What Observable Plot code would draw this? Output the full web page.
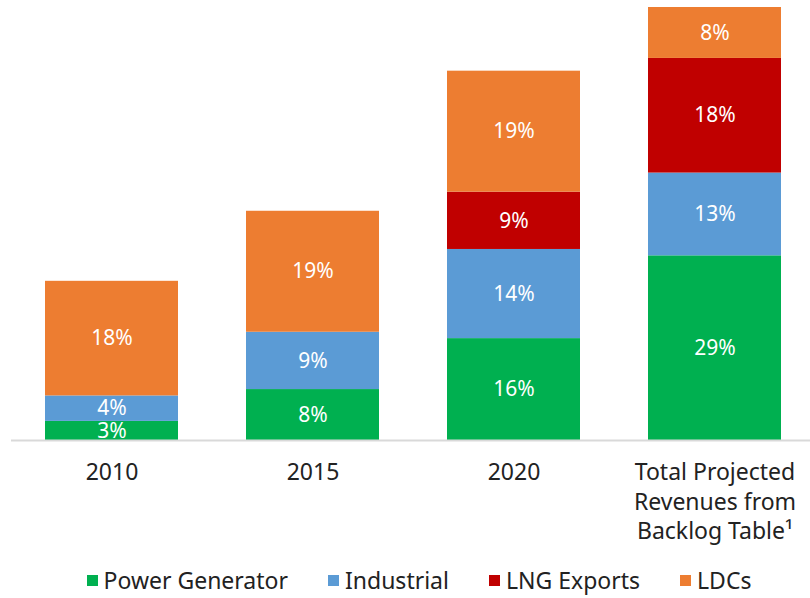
<!DOCTYPE html>
<html>
<head>
<meta charset="utf-8">
<script src="https://cdn.jsdelivr.net/npm/d3@7"></script>
<script src="https://cdn.jsdelivr.net/npm/@observablehq/plot@0.6"></script>
<style>
  body { margin: 0; background: #fff; font-family: "Noto Sans", sans-serif; }
  #chart { width: 810px; }
  .legend { display: flex; justify-content: center; gap: 40px; margin-top: 14px; padding-left: 28px; font-size: 23px; color: #222; }
  .legend span.item { display: inline-flex; align-items: center; }
  .legend span.sw { width: 11px; height: 11px; display: inline-block; margin-right: 6px; }
</style>
</head>
<body>
<div id="chart"></div>
<script>
const categories = ["2010", "2015", "2020", "Total Projected\nRevenues from\nBacklog Table¹"];
const seriesNames = ["Power Generator", "Industrial", "LNG Exports", "LDCs"];
const seriesColors = ["#00B050", "#5B9BD5", "#C00000", "#ED7D31"];
const powerGenerator = [3, 8, 16, 29];
const industrial = [4, 9, 14, 13];
const lngExports = [0, 0, 9, 18];
const ldcs = [18, 19, 19, 8];

const seriesValues = [powerGenerator, industrial, lngExports, ldcs];
const data = [];
seriesNames.forEach((s, i) => {
  categories.forEach((c, j) => {
    if (seriesValues[i][j] > 0) data.push({category: c, series: s, value: seriesValues[i][j]});
  });
});

const chart = Plot.plot({
  width: 810,
  height: 550,
  marginTop: 7,
  marginBottom: 110,
  marginLeft: 11,
  marginRight: 0,
  style: { fontFamily: "Noto Sans, sans-serif", background: "#fff" },
  x: { domain: categories, range: [11.5, 815.5], paddingInner: 0.338, paddingOuter: 0.169, label: null },
  y: { domain: [0, 68], axis: null },
  color: { domain: seriesNames, range: seriesColors },
  marks: [
    Plot.barY(data, Plot.stackY({x: "category", y: "value", fill: "series", order: seriesNames})),
    Plot.text(data, Plot.stackY({x: "category", y: "value", z: "series", order: seriesNames,
      text: d => d.value + "%", fill: "white", fontSize: 21})),
    Plot.ruleY([0], {stroke: "#d9d9d9", strokeWidth: 2}),
    Plot.axisX({tickSize: 0, tickPadding: 19, fontSize: 23, lineHeight: 1.28, label: null, fill: "#222"})
  ]
});
document.getElementById("chart").appendChild(chart);

const legend = document.createElement("div");
legend.className = "legend";
seriesNames.forEach((s, i) => {
  const item = document.createElement("span");
  item.className = "item";
  item.innerHTML = `<span class="sw" style="background:${seriesColors[i]}"></span>${s}`;
  legend.appendChild(item);
});
document.getElementById("chart").appendChild(legend);
</script>
</body>
</html>
